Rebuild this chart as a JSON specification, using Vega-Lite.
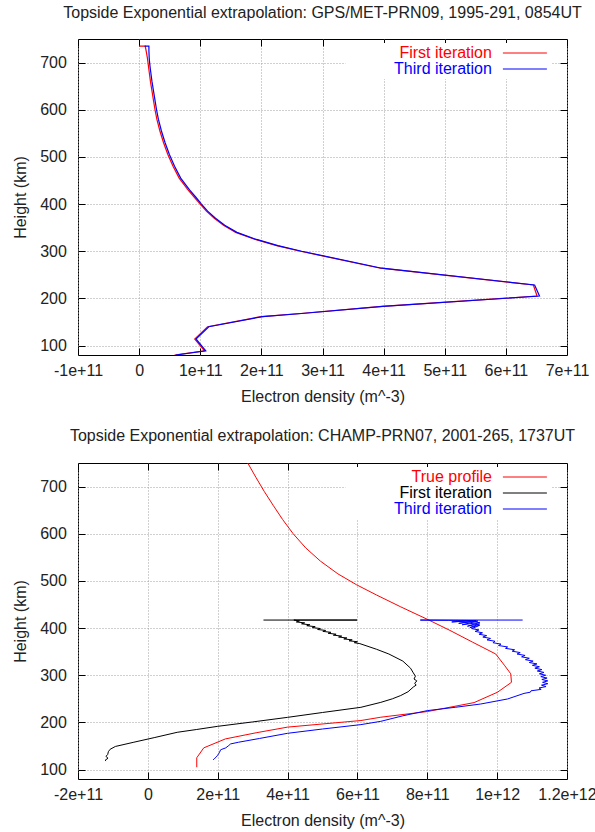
{
  "$schema": "https://vega.github.io/schema/vega-lite/v6.json",
  "background": "white",
  "padding": {"left": 12, "top": 4, "right": 5, "bottom": 5},
  "config": {
    "font": "Liberation Sans",
    "view": {"stroke": "#000000", "strokeWidth": 1},
    "axis": {
      "grid": true, "gridColor": "#a0a0a0", "gridDash": [1, 2], "gridWidth": 1,
      "domain": false, "tickColor": "#000000", "tickSize": -7, "tickWidth": 1,
      "labelOverlap": false, "labelFlush": false,
      "labelFont": "Liberation Sans", "labelFontSize": 16, "labelColor": "#222222",
      "titleFont": "Liberation Sans", "titleFontSize": 16, "titleFontWeight": "normal", "titleColor": "#222222"
    },
    "axisX": {"labelPadding": 14.5, "titlePadding": 10},
    "axisY": {"labelPadding": 18.6, "titlePadding": 11},
    "title": {"font": "Liberation Sans", "fontSize": 16, "fontWeight": "normal", "color": "#222222", "anchor": "middle", "offset": 14},
    "legend": {
      "orient": "none", "legendX": 267.5, "legendY": 4, "padding": 2, "fillColor": "white",
      "symbolType": "M-3,0H3", "symbolSize": 215, "symbolStrokeWidth": 1,
      "labelFont": "Liberation Sans", "labelFontSize": 16, "labelAlign": "right",
      "labelOffset": -41, "symbolOffset": 169.4, "rowPadding": 0
    }
  },
  "datasets": {
    "top": [
      {"s": "First iteration", "h": 735, "ne": 0},
      {"s": "First iteration", "h": 735, "ne": 0.10e11},
      {"s": "First iteration", "h": 725, "ne": 0.115e11},
      {"s": "First iteration", "h": 710, "ne": 0.135e11},
      {"s": "First iteration", "h": 695, "ne": 0.15e11},
      {"s": "First iteration", "h": 680, "ne": 0.165e11},
      {"s": "First iteration", "h": 660, "ne": 0.185e11},
      {"s": "First iteration", "h": 640, "ne": 0.21e11},
      {"s": "First iteration", "h": 620, "ne": 0.235e11},
      {"s": "First iteration", "h": 600, "ne": 0.26e11},
      {"s": "First iteration", "h": 580, "ne": 0.29e11},
      {"s": "First iteration", "h": 555, "ne": 0.34e11},
      {"s": "First iteration", "h": 530, "ne": 0.40e11},
      {"s": "First iteration", "h": 505, "ne": 0.47e11},
      {"s": "First iteration", "h": 480, "ne": 0.555e11},
      {"s": "First iteration", "h": 455, "ne": 0.655e11},
      {"s": "First iteration", "h": 430, "ne": 0.80e11},
      {"s": "First iteration", "h": 415, "ne": 0.90e11},
      {"s": "First iteration", "h": 400, "ne": 1.0e11},
      {"s": "First iteration", "h": 385, "ne": 1.10e11},
      {"s": "First iteration", "h": 370, "ne": 1.23e11},
      {"s": "First iteration", "h": 355, "ne": 1.38e11},
      {"s": "First iteration", "h": 340, "ne": 1.58e11},
      {"s": "First iteration", "h": 325, "ne": 1.90e11},
      {"s": "First iteration", "h": 312, "ne": 2.25e11},
      {"s": "First iteration", "h": 300, "ne": 2.64e11},
      {"s": "First iteration", "h": 264, "ne": 3.95e11},
      {"s": "First iteration", "h": 228.5, "ne": 6.45e11},
      {"s": "First iteration", "h": 205, "ne": 6.51e11},
      {"s": "First iteration", "h": 183, "ne": 3.97e11},
      {"s": "First iteration", "h": 168, "ne": 2.64e11},
      {"s": "First iteration", "h": 161.5, "ne": 2.0e11},
      {"s": "First iteration", "h": 140, "ne": 1.12e11},
      {"s": "First iteration", "h": 114, "ne": 0.91e11},
      {"s": "First iteration", "h": 89, "ne": 1.07e11},
      {"s": "First iteration", "h": 80, "ne": 0.58e11},
      {"s": "Third iteration", "h": 735, "ne": 0.09e11},
      {"s": "Third iteration", "h": 735, "ne": 0.16e11},
      {"s": "Third iteration", "h": 725, "ne": 0.16e11},
      {"s": "Third iteration", "h": 710, "ne": 0.165e11},
      {"s": "Third iteration", "h": 695, "ne": 0.175e11},
      {"s": "Third iteration", "h": 680, "ne": 0.19e11},
      {"s": "Third iteration", "h": 660, "ne": 0.21e11},
      {"s": "Third iteration", "h": 640, "ne": 0.235e11},
      {"s": "Third iteration", "h": 620, "ne": 0.26e11},
      {"s": "Third iteration", "h": 600, "ne": 0.285e11},
      {"s": "Third iteration", "h": 580, "ne": 0.315e11},
      {"s": "Third iteration", "h": 555, "ne": 0.365e11},
      {"s": "Third iteration", "h": 530, "ne": 0.425e11},
      {"s": "Third iteration", "h": 505, "ne": 0.495e11},
      {"s": "Third iteration", "h": 480, "ne": 0.58e11},
      {"s": "Third iteration", "h": 455, "ne": 0.68e11},
      {"s": "Third iteration", "h": 430, "ne": 0.825e11},
      {"s": "Third iteration", "h": 415, "ne": 0.925e11},
      {"s": "Third iteration", "h": 400, "ne": 1.02e11},
      {"s": "Third iteration", "h": 385, "ne": 1.12e11},
      {"s": "Third iteration", "h": 370, "ne": 1.25e11},
      {"s": "Third iteration", "h": 355, "ne": 1.40e11},
      {"s": "Third iteration", "h": 340, "ne": 1.60e11},
      {"s": "Third iteration", "h": 325, "ne": 1.92e11},
      {"s": "Third iteration", "h": 312, "ne": 2.27e11},
      {"s": "Third iteration", "h": 300, "ne": 2.66e11},
      {"s": "Third iteration", "h": 264, "ne": 3.97e11},
      {"s": "Third iteration", "h": 228.5, "ne": 6.47e11},
      {"s": "Third iteration", "h": 205, "ne": 6.55e11},
      {"s": "Third iteration", "h": 183, "ne": 3.99e11},
      {"s": "Third iteration", "h": 168, "ne": 2.66e11},
      {"s": "Third iteration", "h": 161.5, "ne": 2.02e11},
      {"s": "Third iteration", "h": 140, "ne": 1.14e11},
      {"s": "Third iteration", "h": 114, "ne": 0.93e11},
      {"s": "Third iteration", "h": 89, "ne": 1.09e11},
      {"s": "Third iteration", "h": 80, "ne": 0.60e11}
    ],
    "bottom": [
      {"s": "True profile", "h": 760, "ne": 2.78e11},
      {"s": "True profile", "h": 750, "ne": 2.86e11},
      {"s": "True profile", "h": 720, "ne": 3.09e11},
      {"s": "True profile", "h": 690, "ne": 3.33e11},
      {"s": "True profile", "h": 660, "ne": 3.59e11},
      {"s": "True profile", "h": 630, "ne": 3.86e11},
      {"s": "True profile", "h": 600, "ne": 4.16e11},
      {"s": "True profile", "h": 570, "ne": 4.52e11},
      {"s": "True profile", "h": 542, "ne": 4.94e11},
      {"s": "True profile", "h": 515, "ne": 5.44e11},
      {"s": "True profile", "h": 492, "ne": 5.97e11},
      {"s": "True profile", "h": 470, "ne": 6.55e11},
      {"s": "True profile", "h": 445, "ne": 7.24e11},
      {"s": "True profile", "h": 419, "ne": 7.99e11},
      {"s": "True profile", "h": 395, "ne": 8.65e11},
      {"s": "True profile", "h": 370, "ne": 9.3e11},
      {"s": "True profile", "h": 345, "ne": 9.96e11},
      {"s": "True profile", "h": 320, "ne": 10.22e11},
      {"s": "True profile", "h": 303, "ne": 10.39e11},
      {"s": "True profile", "h": 285, "ne": 10.41e11},
      {"s": "True profile", "h": 264, "ne": 10.01e11},
      {"s": "True profile", "h": 242, "ne": 9.34e11},
      {"s": "True profile", "h": 223, "ne": 8.0e11},
      {"s": "True profile", "h": 211, "ne": 6.67e11},
      {"s": "True profile", "h": 204, "ne": 6.1e11},
      {"s": "True profile", "h": 190, "ne": 4.0e11},
      {"s": "True profile", "h": 178, "ne": 3.1e11},
      {"s": "True profile", "h": 165, "ne": 2.22e11},
      {"s": "True profile", "h": 146, "ne": 1.6e11},
      {"s": "True profile", "h": 125, "ne": 1.4e11},
      {"s": "True profile", "h": 105, "ne": 1.4e11},
      {"s": "First iteration", "h": 417, "ne": 3.31e11},
      {"s": "First iteration", "h": 417, "ne": 5.99e11},
      {"s": "First iteration", "h": 417, "ne": 4.18e11},
      {"s": "First iteration", "h": 415, "ne": 4.34e11},
      {"s": "First iteration", "h": 413, "ne": 4.25e11},
      {"s": "First iteration", "h": 411, "ne": 4.49e11},
      {"s": "First iteration", "h": 409, "ne": 4.40e11},
      {"s": "First iteration", "h": 407, "ne": 4.64e11},
      {"s": "First iteration", "h": 405, "ne": 4.55e11},
      {"s": "First iteration", "h": 403, "ne": 4.79e11},
      {"s": "First iteration", "h": 401, "ne": 4.71e11},
      {"s": "First iteration", "h": 399, "ne": 4.94e11},
      {"s": "First iteration", "h": 397, "ne": 4.86e11},
      {"s": "First iteration", "h": 395, "ne": 5.09e11},
      {"s": "First iteration", "h": 393, "ne": 5.01e11},
      {"s": "First iteration", "h": 391, "ne": 5.24e11},
      {"s": "First iteration", "h": 389, "ne": 5.16e11},
      {"s": "First iteration", "h": 387, "ne": 5.39e11},
      {"s": "First iteration", "h": 385, "ne": 5.31e11},
      {"s": "First iteration", "h": 383, "ne": 5.55e11},
      {"s": "First iteration", "h": 381, "ne": 5.46e11},
      {"s": "First iteration", "h": 379, "ne": 5.70e11},
      {"s": "First iteration", "h": 377, "ne": 5.61e11},
      {"s": "First iteration", "h": 375, "ne": 5.85e11},
      {"s": "First iteration", "h": 373, "ne": 5.76e11},
      {"s": "First iteration", "h": 371, "ne": 6.00e11},
      {"s": "First iteration", "h": 369, "ne": 5.91e11},
      {"s": "First iteration", "h": 367, "ne": 6.07e11},
      {"s": "First iteration", "h": 355, "ne": 6.55e11},
      {"s": "First iteration", "h": 345, "ne": 6.9e11},
      {"s": "First iteration", "h": 330, "ne": 7.3e11},
      {"s": "First iteration", "h": 315, "ne": 7.52e11},
      {"s": "First iteration", "h": 305, "ne": 7.6e11},
      {"s": "First iteration", "h": 298, "ne": 7.66e11},
      {"s": "First iteration", "h": 292, "ne": 7.62e11},
      {"s": "First iteration", "h": 288, "ne": 7.7e11},
      {"s": "First iteration", "h": 283, "ne": 7.64e11},
      {"s": "First iteration", "h": 279, "ne": 7.68e11},
      {"s": "First iteration", "h": 275, "ne": 7.6e11},
      {"s": "First iteration", "h": 265, "ne": 7.45e11},
      {"s": "First iteration", "h": 257, "ne": 7.24e11},
      {"s": "First iteration", "h": 250, "ne": 7.0e11},
      {"s": "First iteration", "h": 242.5, "ne": 6.67e11},
      {"s": "First iteration", "h": 232, "ne": 6.1e11},
      {"s": "First iteration", "h": 221, "ne": 5.0e11},
      {"s": "First iteration", "h": 210.7, "ne": 4.0e11},
      {"s": "First iteration", "h": 201, "ne": 3.0e11},
      {"s": "First iteration", "h": 191.7, "ne": 2.0e11},
      {"s": "First iteration", "h": 185, "ne": 1.4e11},
      {"s": "First iteration", "h": 179, "ne": 0.84e11},
      {"s": "First iteration", "h": 168, "ne": 0.2e11},
      {"s": "First iteration", "h": 158, "ne": -0.4e11},
      {"s": "First iteration", "h": 149, "ne": -0.93e11},
      {"s": "First iteration", "h": 143, "ne": -1.08e11},
      {"s": "First iteration", "h": 138, "ne": -1.13e11},
      {"s": "First iteration", "h": 132, "ne": -1.15e11},
      {"s": "First iteration", "h": 128, "ne": -1.2e11},
      {"s": "First iteration", "h": 124, "ne": -1.14e11},
      {"s": "First iteration", "h": 120, "ne": -1.22e11},
      {"s": "First iteration", "h": 118, "ne": -1.2e11},
      {"s": "Third iteration", "h": 417, "ne": 10.73e11},
      {"s": "Third iteration", "h": 417, "ne": 7.8e11},
      {"s": "Third iteration", "h": 416.5, "ne": 8.6e11},
      {"s": "Third iteration", "h": 416, "ne": 9.3e11},
      {"s": "Third iteration", "h": 413, "ne": 8.7e11},
      {"s": "Third iteration", "h": 416, "ne": 9.4e11},
      {"s": "Third iteration", "h": 410, "ne": 8.9e11},
      {"s": "Third iteration", "h": 415, "ne": 9.45e11},
      {"s": "Third iteration", "h": 407, "ne": 9.0e11},
      {"s": "Third iteration", "h": 412, "ne": 9.5e11},
      {"s": "Third iteration", "h": 404, "ne": 9.15e11},
      {"s": "Third iteration", "h": 409, "ne": 9.5e11},
      {"s": "Third iteration", "h": 401, "ne": 9.22e11},
      {"s": "Third iteration", "h": 406, "ne": 9.5e11},
      {"s": "Third iteration", "h": 402, "ne": 9.38e11},
      {"s": "Third iteration", "h": 399, "ne": 9.27e11},
      {"s": "Third iteration", "h": 396, "ne": 9.48e11},
      {"s": "Third iteration", "h": 393, "ne": 9.37e11},
      {"s": "Third iteration", "h": 390, "ne": 9.58e11},
      {"s": "Third iteration", "h": 387, "ne": 9.48e11},
      {"s": "Third iteration", "h": 384, "ne": 9.70e11},
      {"s": "Third iteration", "h": 381, "ne": 9.59e11},
      {"s": "Third iteration", "h": 378, "ne": 9.81e11},
      {"s": "Third iteration", "h": 375, "ne": 9.71e11},
      {"s": "Third iteration", "h": 372, "ne": 9.94e11},
      {"s": "Third iteration", "h": 369, "ne": 9.88e11},
      {"s": "Third iteration", "h": 366, "ne": 10.11e11},
      {"s": "Third iteration", "h": 363, "ne": 10.04e11},
      {"s": "Third iteration", "h": 360, "ne": 10.30e11},
      {"s": "Third iteration", "h": 357, "ne": 10.24e11},
      {"s": "Third iteration", "h": 354, "ne": 10.50e11},
      {"s": "Third iteration", "h": 351, "ne": 10.43e11},
      {"s": "Third iteration", "h": 348, "ne": 10.66e11},
      {"s": "Third iteration", "h": 345, "ne": 10.57e11},
      {"s": "Third iteration", "h": 342, "ne": 10.80e11},
      {"s": "Third iteration", "h": 339, "ne": 10.70e11},
      {"s": "Third iteration", "h": 336, "ne": 10.92e11},
      {"s": "Third iteration", "h": 333, "ne": 10.81e11},
      {"s": "Third iteration", "h": 330, "ne": 11.03e11},
      {"s": "Third iteration", "h": 327, "ne": 10.92e11},
      {"s": "Third iteration", "h": 324, "ne": 11.14e11},
      {"s": "Third iteration", "h": 321, "ne": 11.01e11},
      {"s": "Third iteration", "h": 318, "ne": 11.21e11},
      {"s": "Third iteration", "h": 315, "ne": 11.08e11},
      {"s": "Third iteration", "h": 312, "ne": 11.28e11},
      {"s": "Third iteration", "h": 309, "ne": 11.15e11},
      {"s": "Third iteration", "h": 306, "ne": 11.34e11},
      {"s": "Third iteration", "h": 303, "ne": 11.21e11},
      {"s": "Third iteration", "h": 300, "ne": 11.39e11},
      {"s": "Third iteration", "h": 297, "ne": 11.25e11},
      {"s": "Third iteration", "h": 294, "ne": 11.43e11},
      {"s": "Third iteration", "h": 291, "ne": 11.28e11},
      {"s": "Third iteration", "h": 288, "ne": 11.45e11},
      {"s": "Third iteration", "h": 285, "ne": 11.30e11},
      {"s": "Third iteration", "h": 282, "ne": 11.45e11},
      {"s": "Third iteration", "h": 279, "ne": 11.27e11},
      {"s": "Third iteration", "h": 276, "ne": 11.40e11},
      {"s": "Third iteration", "h": 273, "ne": 11.20e11},
      {"s": "Third iteration", "h": 270, "ne": 11.26e11},
      {"s": "Third iteration", "h": 267, "ne": 10.97e11},
      {"s": "Third iteration", "h": 264, "ne": 10.95e11},
      {"s": "Third iteration", "h": 261.5, "ne": 10.77e11},
      {"s": "Third iteration", "h": 249.7, "ne": 10.3e11},
      {"s": "Third iteration", "h": 239, "ne": 9.53e11},
      {"s": "Third iteration", "h": 232, "ne": 8.8e11},
      {"s": "Third iteration", "h": 225, "ne": 8.0e11},
      {"s": "Third iteration", "h": 214, "ne": 7.3e11},
      {"s": "Third iteration", "h": 202.3, "ne": 6.67e11},
      {"s": "Third iteration", "h": 195.3, "ne": 6.1e11},
      {"s": "Third iteration", "h": 186, "ne": 5.0e11},
      {"s": "Third iteration", "h": 176.9, "ne": 4.0e11},
      {"s": "Third iteration", "h": 166, "ne": 3.2e11},
      {"s": "Third iteration", "h": 158, "ne": 2.6e11},
      {"s": "Third iteration", "h": 154.4, "ne": 2.37e11},
      {"s": "Third iteration", "h": 150, "ne": 2.3e11},
      {"s": "Third iteration", "h": 146, "ne": 2.23e11},
      {"s": "Third iteration", "h": 143, "ne": 2.12e11},
      {"s": "Third iteration", "h": 141.7, "ne": 2.08e11},
      {"s": "Third iteration", "h": 136, "ne": 2.05e11},
      {"s": "Third iteration", "h": 129.6, "ne": 1.99e11},
      {"s": "Third iteration", "h": 126, "ne": 1.95e11},
      {"s": "Third iteration", "h": 123, "ne": 1.9e11},
      {"s": "Third iteration", "h": 120.5, "ne": 1.87e11}
    ]
  },
  "bounds": "flush",
  "spacing": 108,
  "resolve": {"scale": {"color": "independent"}, "legend": {"color": "independent"}},
  "vconcat": [
    {
      "width": 489, "height": 316,
      "title": {"text": "Topside Exponential extrapolation: GPS/MET-PRN09, 1995-291, 0854UT", "offset": 17.5},
      "data": {"name": "top"},
      "layer": [
        {
          "mark": {"type": "line", "strokeWidth": 1.2, "clip": true},
          "encoding": {
            "x": {"field": "ne", "type": "quantitative", "scale": {"domain": [-1e11, 7e11], "nice": false, "zero": false},
                  "axis": {"values": [-1e11, 0, 1e11, 2e11, 3e11, 4e11, 5e11, 6e11, 7e11], "title": "Electron density (m^-3)",
                           "labelExpr": "datum.value === 0 ? '0' : replace(format(datum.value, '~e'), '\u2212', '-')"}},
            "y": {"field": "h", "type": "quantitative", "scale": {"domain": [80, 750], "nice": false, "zero": false},
                  "axis": {"values": [100, 200, 300, 400, 500, 600, 700], "title": "Height (km)"}},
            "color": {"field": "s", "type": "nominal", "sort": null,
                      "scale": {"domain": ["First iteration", "Third iteration"], "range": ["#ff0000", "#0000ff"]},
                      "legend": {"title": null,
                                 "labelColor": {"expr": "datum.value === 'Third iteration' ? '#0000ff' : '#ff0000'"}}},
            "order": {"value": null}
          }
        },
        {
          "mark": {"type": "line", "opacity": 0},
          "encoding": {
            "x": {"field": "ne", "type": "quantitative", "axis": {"orient": "top", "labels": false, "grid": false, "title": null, "values": [-1e11, 0, 1e11, 2e11, 3e11, 4e11, 5e11, 6e11, 7e11]}},
            "y": {"field": "h", "type": "quantitative", "axis": {"orient": "right", "labels": false, "grid": false, "title": null, "values": [100, 200, 300, 400, 500, 600, 700]}},
            "detail": {"field": "s"},
            "order": {"value": null}
          }
        }
      ],
      "resolve": {"axis": {"x": "independent", "y": "independent"}}
    },
    {
      "width": 489, "height": 316,
      "title": {"text": "Topside Exponential extrapolation: CHAMP-PRN07, 2001-265, 1737UT", "offset": 14},
      "data": {"name": "bottom"},
      "layer": [
        {
          "mark": {"type": "line", "strokeWidth": 1, "clip": true},
          "encoding": {
            "x": {"field": "ne", "type": "quantitative", "scale": {"domain": [-2e11, 1.2e12], "nice": false, "zero": false},
                  "axis": {"values": [-2e11, 0, 2e11, 4e11, 6e11, 8e11, 1e12, 1.2e12], "title": "Electron density (m^-3)",
                           "labelExpr": "datum.value === 0 ? '0' : replace(format(datum.value, '~e'), '\u2212', '-')"}},
            "y": {"field": "h", "type": "quantitative", "scale": {"domain": [80, 750], "nice": false, "zero": false},
                  "axis": {"values": [100, 200, 300, 400, 500, 600, 700], "title": "Height (km)"}},
            "color": {"field": "s", "type": "nominal", "sort": null,
                      "scale": {"domain": ["True profile", "First iteration", "Third iteration"], "range": ["#ff0000", "#000000", "#0000ff"]},
                      "legend": {"title": null,
                                 "labelColor": {"expr": "datum.value === 'True profile' ? '#ff0000' : datum.value === 'Third iteration' ? '#0000ff' : '#000000'"}}},
            "order": {"value": null}
          }
        },
        {
          "mark": {"type": "line", "opacity": 0},
          "encoding": {
            "x": {"field": "ne", "type": "quantitative", "axis": {"orient": "top", "labels": false, "grid": false, "title": null, "values": [-2e11, 0, 2e11, 4e11, 6e11, 8e11, 1e12, 1.2e12]}},
            "y": {"field": "h", "type": "quantitative", "axis": {"orient": "right", "labels": false, "grid": false, "title": null, "values": [100, 200, 300, 400, 500, 600, 700]}},
            "detail": {"field": "s"},
            "order": {"value": null}
          }
        }
      ],
      "resolve": {"axis": {"x": "independent", "y": "independent"}}
    }
  ]
}
